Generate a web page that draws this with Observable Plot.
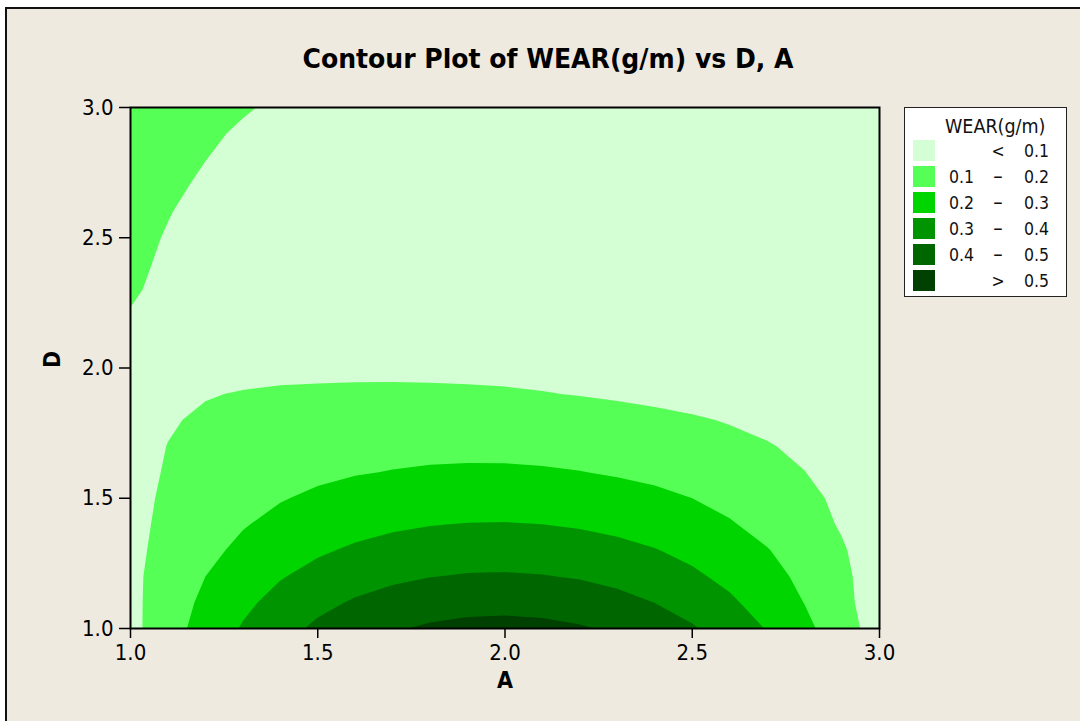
<!DOCTYPE html>
<html><head><meta charset="utf-8">
<script src="https://cdn.jsdelivr.net/npm/d3@7"></script>
<script src="https://cdn.jsdelivr.net/npm/@observablehq/plot@0.6"></script>
<style>
html,body{margin:0;padding:0;background:#fff;width:1080px;height:721px;overflow:hidden;}
#frame{position:absolute;left:5px;top:7px;width:1200px;height:800px;border-left:2px solid #111;border-top:2px solid #111;background:#EEEAE0;}
#chart{position:absolute;left:0;top:0;}
#overlay{position:absolute;left:0;top:0;}
</style></head><body>
<div id="frame"></div>
<div id="chart"></div>
<svg id="overlay" width="1080" height="721"></svg>
<script>
const A_VALUES = [1.0,1.1,1.2,1.3,1.4,1.5,1.6,1.7,1.8,1.9,2.0,2.1,2.2,2.3,2.4,2.5,2.6,2.7,2.8,2.9,3.0];
const D_VALUES = [1.0,1.1,1.2,1.3,1.4,1.5,1.6,1.7,1.8,1.9,2.0,2.1,2.2,2.3,2.4,2.5,2.6,2.7,2.8,2.9,3.0];
// one row per D value, one column per A value
const WEAR = [
  [0.072,0.160,0.239,0.308,0.367,0.418,0.459,0.491,0.513,0.526,0.530,0.524,0.509,0.485,0.452,0.409,0.356,0.295,0.224,0.143,0.054],
  [0.075,0.152,0.220,0.280,0.331,0.375,0.410,0.437,0.456,0.467,0.470,0.464,0.451,0.429,0.399,0.361,0.315,0.260,0.198,0.127,0.048],
  [0.077,0.144,0.200,0.251,0.294,0.330,0.360,0.382,0.398,0.407,0.409,0.404,0.393,0.374,0.349,0.316,0.277,0.231,0.179,0.119,0.052],
  [0.077,0.129,0.177,0.220,0.257,0.288,0.313,0.332,0.346,0.353,0.355,0.351,0.341,0.325,0.304,0.276,0.243,0.204,0.159,0.108,0.051],
  [0.077,0.119,0.159,0.194,0.224,0.250,0.270,0.286,0.297,0.303,0.304,0.300,0.291,0.277,0.259,0.235,0.207,0.173,0.135,0.092,0.044],
  [0.077,0.112,0.144,0.172,0.195,0.215,0.232,0.244,0.252,0.256,0.257,0.253,0.246,0.234,0.219,0.200,0.177,0.150,0.119,0.084,0.045],
  [0.079,0.105,0.129,0.150,0.168,0.183,0.195,0.203,0.209,0.212,0.212,0.208,0.202,0.192,0.180,0.165,0.146,0.125,0.101,0.073,0.048],
  [0.080,0.101,0.118,0.134,0.147,0.158,0.167,0.173,0.177,0.178,0.177,0.174,0.168,0.160,0.150,0.137,0.122,0.105,0.085,0.068,0.052],
  [0.081,0.095,0.108,0.119,0.128,0.135,0.140,0.144,0.146,0.146,0.144,0.140,0.135,0.128,0.119,0.108,0.095,0.081,0.068,0.058,0.050],
  [0.082,0.090,0.097,0.103,0.108,0.111,0.113,0.114,0.113,0.111,0.108,0.103,0.097,0.090,0.081,0.073,0.066,0.061,0.056,0.052,0.048],
  [0.086,0.085,0.084,0.084,0.084,0.084,0.084,0.084,0.083,0.082,0.080,0.078,0.075,0.071,0.067,0.063,0.059,0.055,0.051,0.047,0.043],
  [0.092,0.087,0.083,0.081,0.079,0.078,0.077,0.076,0.074,0.072,0.070,0.067,0.065,0.062,0.059,0.056,0.053,0.050,0.047,0.044,0.041],
  [0.098,0.090,0.083,0.079,0.075,0.072,0.069,0.067,0.065,0.062,0.060,0.058,0.056,0.053,0.051,0.049,0.047,0.045,0.043,0.041,0.039],
  [0.104,0.0915,0.083,0.077,0.072,0.068,0.065,0.062,0.059,0.057,0.055,0.052,0.050,0.048,0.046,0.044,0.043,0.041,0.040,0.038,0.037],
  [0.108,0.094,0.083,0.075,0.069,0.064,0.060,0.057,0.054,0.051,0.049,0.047,0.045,0.043,0.042,0.040,0.039,0.038,0.037,0.036,0.035],
  [0.113,0.097,0.084,0.075,0.068,0.062,0.058,0.054,0.051,0.048,0.046,0.044,0.042,0.041,0.039,0.038,0.036,0.035,0.034,0.033,0.032],
  [0.119,0.102,0.087,0.077,0.069,0.063,0.058,0.054,0.050,0.047,0.045,0.043,0.041,0.039,0.038,0.036,0.035,0.033,0.032,0.030,0.029],
  [0.126,0.109,0.093,0.082,0.073,0.066,0.060,0.055,0.051,0.048,0.046,0.044,0.042,0.040,0.038,0.036,0.034,0.032,0.031,0.029,0.027],
  [0.134,0.117,0.1005,0.087,0.077,0.069,0.062,0.057,0.053,0.050,0.047,0.044,0.042,0.040,0.038,0.036,0.034,0.032,0.030,0.028,0.026],
  [0.142,0.127,0.109,0.093,0.082,0.074,0.066,0.060,0.055,0.051,0.048,0.045,0.042,0.040,0.038,0.036,0.034,0.032,0.030,0.028,0.026],
  [0.150,0.135,0.120,0.105,0.091,0.080,0.071,0.064,0.058,0.053,0.049,0.046,0.043,0.041,0.039,0.037,0.035,0.033,0.031,0.029,0.027]
];
const LEVELS = [0.1, 0.2, 0.3, 0.4, 0.5];
const COLORS = ["#D4FFD4", "#55FF55", "#00D500", "#009400", "#006600", "#004000"];
const X_TICKS = [1.0, 1.5, 2.0, 2.5, 3.0];
const Y_TICKS = [1.0, 1.5, 2.0, 2.5, 3.0];
const TITLE = "Contour Plot of WEAR(g/m) vs D, A";
const X_LABEL = "A";
const Y_LABEL = "D";
const LEGEND_TITLE = "WEAR(g/m)";
const LEGEND_LOW = ["", "0.1", "0.2", "0.3", "0.4", ""];
const LEGEND_SYM = ["<", "–", "–", "–", "–", ">"];
const LEGEND_HIGH = ["0.1", "0.2", "0.3", "0.4", "0.5", "0.5"];

const FONT = '"DejaVu Sans Condensed", "DejaVu Sans", sans-serif';
const stepA = A_VALUES[1] - A_VALUES[0];
const stepD = D_VALUES[1] - D_VALUES[0];
const nA = A_VALUES.length, nD = D_VALUES.length;

const plot = Plot.plot({
  width: 900, height: 721,
  marginLeft: 130, marginRight: 21, marginTop: 107, marginBottom: 93,
  x: {domain: [A_VALUES[0], A_VALUES[nA - 1]]},
  y: {domain: [D_VALUES[0], D_VALUES[nD - 1]]},
  color: {type: "threshold", domain: LEVELS, range: COLORS},
  style: {background: "transparent", fontFamily: FONT, fontSize: "22px", color: "#000", overflow: "visible", fontStretch: "condensed"},
  marks: [
    Plot.frame({fill: COLORS[0]}),
    Plot.contour(WEAR.flat(), {
      width: nA, height: nD,
      x1: A_VALUES[0] - stepA / 2, x2: A_VALUES[nA - 1] + stepA / 2,
      y1: D_VALUES[0] - stepD / 2, y2: D_VALUES[nD - 1] + stepD / 2,
      fill: Plot.identity, stroke: "none",
      thresholds: [0, ...LEVELS],
      clip: true
    }),
    Plot.frame({stroke: "#000", strokeWidth: 2}),
    Plot.axisX({ticks: X_TICKS, tickFormat: d3.format(".1f"), tickSize: 10, tickPadding: 6, strokeWidth: 1.5, label: null}),
    Plot.axisY({ticks: Y_TICKS, tickFormat: d3.format(".1f"), tickSize: 11, tickPadding: 6, strokeWidth: 1.5, label: null}),
    Plot.text([X_LABEL], {frameAnchor: "bottom", dy: 59, fontWeight: "bold", fontSize: 23}),
    Plot.text([Y_LABEL], {frameAnchor: "left", dx: -78, rotate: -90, fontWeight: "bold", fontSize: 23})
  ]
});
document.getElementById("chart").appendChild(plot);

// Title and legend
const svg = d3.select("#overlay").attr("font-family", FONT).style("font-stretch", "condensed");
svg.append("text")
  .attr("x", 548).attr("y", 68)
  .attr("text-anchor", "middle")
  .attr("font-weight", "bold").attr("font-size", 27)
  .attr("textLength", 491).attr("lengthAdjust", "spacingAndGlyphs")
  .attr("fill", "#000")
  .text(TITLE);

const lg = svg.append("g");
lg.append("rect")
  .attr("x", 904.5).attr("y", 107.5).attr("width", 162).attr("height", 189)
  .attr("fill", "#fff").attr("stroke", "#222").attr("stroke-width", 1);
lg.append("text")
  .attr("x", 945).attr("y", 133).attr("font-size", 19.5).attr("fill", "#111")
  .text(LEGEND_TITLE);
COLORS.forEach((c, i) => {
  const top = 140 + 26 * i;
  lg.append("rect").attr("x", 913).attr("y", top).attr("width", 22).attr("height", 21).attr("fill", c);
  const base = top + 17;
  const fs = 17.5;
  if (LEGEND_LOW[i]) lg.append("text").attr("x", 949).attr("y", base).attr("font-size", fs).attr("fill", "#111").text(LEGEND_LOW[i]);
  lg.append("text").attr("x", 998).attr("y", base).attr("text-anchor", "middle")
    .attr("font-size", LEGEND_SYM[i] === "–" ? 21 : fs).style("font-stretch", "normal").attr("fill", "#111").text(LEGEND_SYM[i]);
  lg.append("text").attr("x", 1024).attr("y", base).attr("font-size", fs).attr("fill", "#111").text(LEGEND_HIGH[i]);
});
</script>
</body></html>
